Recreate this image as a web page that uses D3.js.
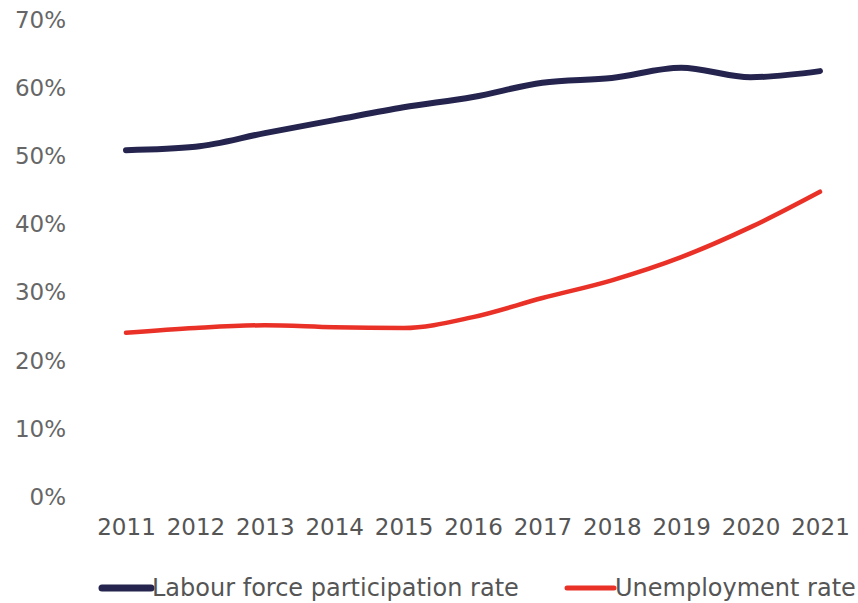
<!DOCTYPE html>
<html>
<head>
<meta charset="utf-8">
<script src="https://cdn.jsdelivr.net/npm/d3@7"></script>
<style>
  html, body { margin: 0; padding: 0; background: #fff; }
  svg text { font-family: "DejaVu Sans", Verdana, sans-serif; }
</style>
</head>
<body>
<svg id="chart" width="858" height="603"></svg>
<script>
// Years on the x axis
const years = ["2011", "2012", "2013", "2014", "2015", "2016", "2017", "2018", "2019", "2020", "2021"];
// Labour force participation rate, %
const participation = [50.9, 51.4, 53.4, 55.3, 57.2, 58.7, 60.8, 61.5, 63.0, 61.6, 62.5];
// Unemployment rate, %
const unemployment = [24.1, 24.8, 25.2, 24.9, 24.8, 26.4, 29.2, 31.8, 35.2, 39.6, 44.8];
// Y axis ticks, %
const yTicks = [0, 10, 20, 30, 40, 50, 60, 70];

const seriesNames = ["Labour force participation rate", "Unemployment rate"];
const seriesColors = ["#24244f", "#ea3128"];

const svg = d3.select("#chart");

const x = d3.scalePoint().domain(years).range([126, 820]);
const y = d3.scaleLinear().domain([0, 70]).range([497, 20]);

// Y axis labels (no axis line)
const yAxis = d3.axisLeft(y).tickValues(yTicks).tickSize(0).tickPadding(0)
  .tickFormat(d => d + "%");
const gy = svg.append("g").attr("transform", "translate(66,0)").call(yAxis);
gy.select(".domain").remove();
gy.selectAll("text").attr("font-size", 23).attr("fill", "#666")
  .attr("font-family", "DejaVu Sans, Verdana, sans-serif");

// X axis labels
const xAxis = d3.axisBottom(x).tickSize(0).tickPadding(0);
const gx = svg.append("g").attr("transform", "translate(0,519)").call(xAxis);
gx.select(".domain").remove();
gx.selectAll("text").attr("font-size", 23).attr("fill", "#555")
  .attr("font-family", "DejaVu Sans, Verdana, sans-serif");

const line = d3.line()
  .x((d, i) => x(years[i]))
  .y(d => y(d))
  .curve(d3.curveMonotoneX);

svg.append("path").datum(unemployment)
  .attr("d", line).attr("fill", "none")
  .attr("stroke", seriesColors[1]).attr("stroke-width", 4.5)
  .attr("stroke-linecap", "round");

svg.append("path").datum(participation)
  .attr("d", line).attr("fill", "none")
  .attr("stroke", seriesColors[0]).attr("stroke-width", 6)
  .attr("stroke-linecap", "round");

// Legend
const legendItems = [
  { name: seriesNames[0], color: seriesColors[0], x0: 102, x1: 151, w: 7 },
  { name: seriesNames[1], color: seriesColors[1], x0: 567, x1: 614, w: 5 }
];
const lg = svg.append("g");
legendItems.forEach(it => {
  lg.append("line").attr("x1", it.x0).attr("x2", it.x1).attr("y1", 588).attr("y2", 588)
    .attr("stroke", it.color).attr("stroke-width", it.w).attr("stroke-linecap", "round");
  lg.append("text").attr("x", it.x1 + 1).attr("y", 596)
    .attr("font-size", 24).attr("fill", "#555").text(it.name);
});
</script>
</body>
</html>
